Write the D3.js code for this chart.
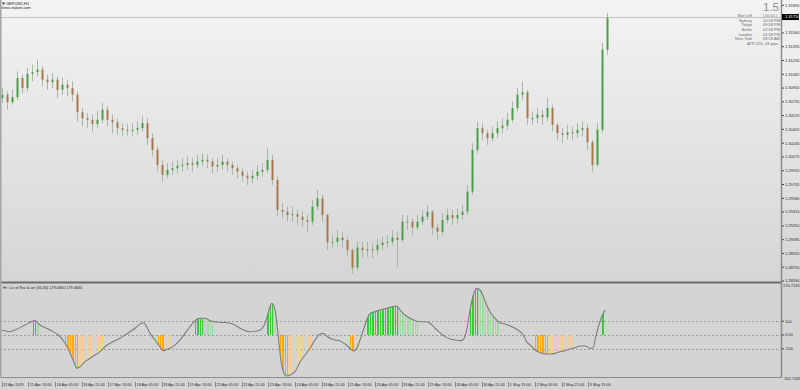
<!DOCTYPE html>
<html>
<head>
<meta charset="utf-8">
<script src="https://cdn.jsdelivr.net/npm/d3@7"></script>
<style>
  body { margin: 0; background: #d4d4d4; }
  svg { display: block; font-family: "Liberation Sans", Arial, sans-serif; }
</style>
</head>
<body>
<div id="chart"></div>
<script>
"use strict"

/* GBPUSD H1 closes, one candle every 3 hours */
let firstOpen = 1.3078;
let closes = [1.3082,1.3073,1.3079,1.3102,1.3090,1.3107,1.3109,1.3112,1.3100,1.3097,
  1.3100,1.3088,1.3094,1.3090,1.3082,1.3061,1.3054,1.3052,1.3047,1.3052,
  1.3064,1.3052,1.3049,1.3042,1.3040,1.3040,1.3040,1.3042,1.3048,1.3030,
  1.3016,1.2998,1.2986,1.2992,1.2994,1.2997,1.2998,1.3000,1.2998,1.3002,
  1.3004,1.3002,1.2996,1.2998,1.3002,1.2998,1.2994,1.2990,1.2985,1.2982,
  1.2985,1.2990,1.2992,1.3004,1.2980,1.2944,1.2942,1.2938,1.2939,1.2936,
  1.2932,1.2930,1.2948,1.2958,1.2938,1.2905,1.2906,1.2911,1.2908,1.2896,
  1.2875,1.2899,1.2896,1.2897,1.2896,1.2902,1.2905,1.2906,1.2911,1.2908,
  1.2930,1.2930,1.2923,1.2930,1.2936,1.2942,1.2923,1.2918,1.2932,1.2938,
  1.2934,1.2938,1.2942,1.2966,1.3016,1.3042,1.3036,1.3030,1.3036,1.3042,
  1.3045,1.3052,1.3066,1.3082,1.3085,1.3054,1.3054,1.3058,1.3055,1.3066,
  1.3046,1.3036,1.3034,1.3037,1.3036,1.3040,1.3042,1.3025,1.2998,1.3040,
  1.3136,1.3174];
let highs = [1.3090,1.3086,1.3088,1.3110,1.3106,1.3114,1.3118,1.3124,1.3116,1.3106,
  1.3108,1.3104,1.3102,1.3100,1.3098,1.3086,1.3066,1.3060,1.3058,1.3062,
  1.3072,1.3068,1.3058,1.3054,1.3048,1.3047,1.3048,1.3050,1.3056,1.3054,
  1.3036,1.3020,1.3004,1.3000,1.3002,1.3004,1.3006,1.3008,1.3006,1.3010,
  1.3012,1.3010,1.3006,1.3006,1.3010,1.3006,1.3002,1.2998,1.2994,1.2990,
  1.2992,1.2998,1.3000,1.3018,1.3010,1.2984,1.2952,1.2948,1.2948,1.2944,
  1.2942,1.2938,1.2956,1.2968,1.2962,1.2940,1.2914,1.2920,1.2918,1.2912,
  1.2898,1.2906,1.2906,1.2906,1.2904,1.2910,1.2912,1.2914,1.2920,1.2918,
  1.2938,1.2938,1.2934,1.2938,1.2944,1.2950,1.2944,1.2928,1.2940,1.2946,
  1.2944,1.2946,1.2950,1.2974,1.3024,1.3050,1.3048,1.3040,1.3044,1.3050,
  1.3054,1.3060,1.3074,1.3090,1.3098,1.3088,1.3062,1.3066,1.3064,1.3078,
  1.3070,1.3048,1.3042,1.3046,1.3044,1.3048,1.3050,1.3046,1.3028,1.3048,
  1.3144,1.3180];
let lows = [1.3072,1.3064,1.3070,1.3076,1.3084,1.3086,1.3098,1.3104,1.3092,1.3088,
  1.3090,1.3078,1.3082,1.3080,1.3074,1.3050,1.3044,1.3042,1.3038,1.3042,
  1.3048,1.3044,1.3036,1.3034,1.3032,1.3033,1.3032,1.3034,1.3038,1.3022,
  1.3008,1.2990,1.2978,1.2982,1.2986,1.2988,1.2990,1.2992,1.2990,1.2994,
  1.2996,1.2994,1.2988,1.2990,1.2992,1.2990,1.2986,1.2982,1.2978,1.2974,
  1.2976,1.2980,1.2984,1.2988,1.2974,1.2936,1.2934,1.2930,1.2930,1.2926,
  1.2924,1.2918,1.2926,1.2944,1.2930,1.2896,1.2898,1.2900,1.2898,1.2888,
  1.2868,1.2872,1.2886,1.2888,1.2886,1.2890,1.2896,1.2898,1.2902,1.2876,
  1.2906,1.2920,1.2914,1.2920,1.2926,1.2932,1.2914,1.2908,1.2914,1.2928,
  1.2926,1.2928,1.2932,1.2938,1.2962,1.3012,1.3028,1.3022,1.3026,1.3030,
  1.3036,1.3040,1.3048,1.3062,1.3076,1.3046,1.3046,1.3048,1.3046,1.3050,
  1.3038,1.3028,1.3024,1.3028,1.3028,1.3030,1.3032,1.3016,1.2990,1.2996,
  1.3036,1.3130];
let hoursPerCandle = 3;
let currentPrice = 1.31750;
let priceTicks = [1.31890,1.31560,1.31395,1.31230,1.31065,1.30900,1.30735,1.30570,1.30405,
  1.30240,1.30075,1.29910,1.29745,1.29580,1.29415,1.29250,1.29085,1.28920,1.28755,1.28590];

/* indicator: Cci of Rsx, sampled at these bar numbers */
let indBars = [0,5,8,14,20,23,29,35,38,41,44,45,47,50,53,56,59,62,65,68,
  71,74,77,80,83,85,87,89,92,95,97,99,101,104,107,110,113,116,119,122,
  125,131,136,140,143,149,154,157,159,161,162,164,166,167,169,171,173,176,179,182,
  185,188,191,193,195,197,200,203,206,209,211,213,215,217,219,221,224,227,233,237,
  239,242,245,248,251,254,257,260,263,266,269,272,275,277,279,281,283,285,287,289,
  291,293,296,299,302,305,308,311,313,315,317,320,323,326,329,332,335,338,341,344,
  347,350,353,355,356,358,360,362];
let indValues = [36,24,36,72,104,72,36,-12,-58,-130,-217,-241,-230,-193,-169,-145,-121,-85,-60,-41,
  -24,0,24,49,80,89,60,12,-36,-85,-114,-104,-96,-72,-36,12,60,104,121,121,
  104,92,89,72,49,24,31,60,121,205,230,181,-12,-133,-266,-297,-290,-266,-196,-145,
  -96,-36,7,12,-7,-24,-36,-43,-65,-96,-116,-96,-36,36,109,157,169,181,201,210,
  181,145,121,104,96,96,85,49,17,-12,-29,-36,-41,-31,36,181,290,338,326,278,
  217,169,121,89,80,65,49,24,0,-49,-72,-109,-128,-138,-138,-133,-121,-114,-101,-92,
  -80,-80,-96,-92,-36,60,133,181];
let indLevels = [100, 0, -100];
let indLevelLabels = ["100", "0.00", "-100"];
let indMaxLabel = "170.7145";
let indMinLabel = "-332.7349";
/* histogram runs: first bar, strongest bar, last bar */
let histRuns = [[19,20,22],[38,45,60],[94,97,101],[116,120,126],[159,162,164],[166,171,185],
  [209,211,211],[219,237,249],[281,285,298],[320,327,343],[360,362,362]];
let histSide = ["up","down","down","up","up","down","down","up","up","down","up"];

let timeLabels = ["12 Apr 2019","15 Apr 13:00","16 Apr 05:00","16 Apr 21:00","17 Apr 13:00",
  "18 Apr 05:00","18 Apr 21:00","19 Apr 13:00","22 Apr 05:00","22 Apr 21:00","23 Apr 13:00",
  "24 Apr 05:00","24 Apr 21:00","25 Apr 13:00","26 Apr 05:00","26 Apr 21:00","29 Apr 13:00",
  "30 Apr 05:00","30 Apr 21:00","1 May 13:00","2 May 05:00","2 May 21:00","3 May 13:00"];
let barsPerLabel = 16;

let infoNames = ["Bar Left", "Sydney", "Tokyo", "Berlin", "London", "New York"];
let infoTimes = ["[ 00:01 ]", "10:58 PM", "09:58 PM", "02:58 PM", "01:58 PM", "08:58 AM"];
let atrText = "ATR (20): 43 pips";

/* layout */
let svgWidth = 800;
let svgHeight = 390;
let axisX = 781;
let mainBottom = 282;
let indTop = 284;
let indBottom = 377;

let svg = d3.select("#chart")
  .append("svg")
  .attr("width", svgWidth)
  .attr("height", svgHeight);

let defs = svg.append("defs");
let grad = defs.append("linearGradient")
  .attr("id", "mainbg")
  .attr("x1", 0).attr("y1", 0).attr("x2", 0).attr("y2", 1);
grad.append("stop").attr("offset", "0%").attr("stop-color", "#f3f3f3");
grad.append("stop").attr("offset", "100%").attr("stop-color", "#d5d5d5");

svg.append("rect")
  .attr("width", svgWidth).attr("height", svgHeight)
  .attr("fill", "#d4d4d4");
svg.append("rect")
  .attr("width", svgWidth).attr("height", mainBottom)
  .attr("fill", "url(#mainbg)");

/* scales */
let xScale = d3.scaleLinear()
  .domain([0, 480])
  .range([1.7, 1.7 + 480 * (80 / 48)]);

let yPrice = d3.scaleLinear()
  .domain([1.28590, 1.31954])
  .range([281, 0]);

let yInd = d3.scaleLinear()
  .domain([-100, 100])
  .range([348.8, 321.2]);

/* current price line */
svg.append("line")
  .attr("x1", 0).attr("x2", axisX)
  .attr("y1", Math.round(yPrice(currentPrice)) + 0.5)
  .attr("y2", Math.round(yPrice(currentPrice)) + 0.5)
  .attr("stroke", "#c4c4c4");

/* candles */
let candles = closes.map(function (c, i) {
  return {
    bar: i * hoursPerCandle,
    open: i == 0 ? firstOpen : closes[i - 1],
    close: c,
    high: highs[i],
    low: lows[i]
  };
});

let price = svg.append("g");
price.selectAll("line")
  .data(candles)
  .join("line")
  .attr("x1", d => Math.round(xScale(d.bar)) + 0.5)
  .attr("x2", d => Math.round(xScale(d.bar)) + 0.5)
  .attr("y1", d => yPrice(d.high))
  .attr("y2", d => yPrice(d.low))
  .attr("stroke", "#a3b9a3")
  .attr("stroke-width", 1);

price.selectAll("rect")
  .data(candles)
  .join("rect")
  .attr("x", d => Math.round(xScale(d.bar)) - 0.5)
  .attr("width", 2)
  .attr("y", d => yPrice(Math.max(d.open, d.close)))
  .attr("height", d => Math.max(1, Math.abs(yPrice(d.open) - yPrice(d.close))))
  .attr("fill", d => d.close >= d.open ? "#46a046" : "#a9784a");

/* indicator levels */
svg.append("g").selectAll("line")
  .data(indLevels)
  .join("line")
  .attr("x1", 0).attr("x2", axisX)
  .attr("y1", d => Math.round(yInd(d)) + 0.5)
  .attr("y2", d => Math.round(yInd(d)) + 0.5)
  .attr("stroke", "#9a9a9a")
  .attr("stroke-dasharray", "2,2");

/* histogram clipped by the area under the indicator curve */
let indPoints = indBars.map((b, i) => ({ bar: b, v: indValues[i] }));

let area = d3.area()
  .x(d => xScale(d.bar))
  .y0(yInd(0))
  .y1(d => yInd(d.v))
  .curve(d3.curveMonotoneX);

defs.append("clipPath")
  .attr("id", "histclip")
  .append("path")
  .attr("d", area(indPoints));

let histLines = [];
histRuns.forEach(function (run, k) {
  for (let b = run[0]; b <= run[2]; b++) {
    histLines.push({ bar: b, up: histSide[k] == "up", strong: b <= run[1] });
  }
});

svg.append("g")
  .attr("clip-path", "url(#histclip)")
  .selectAll("line")
  .data(histLines)
  .join("line")
  .attr("x1", d => Math.round(xScale(d.bar)) + 0.5)
  .attr("x2", d => Math.round(xScale(d.bar)) + 0.5)
  .attr("y1", yInd(0))
  .attr("y2", d => d.up ? indTop : indBottom + 10)
  .attr("stroke", function (d) {
    if (d.up) return d.strong ? "#35cc35" : "#a2dba2";
    return d.strong ? "#ffa812" : "#f3cf9c";
  })
  .attr("stroke-width", 1)
  .attr("shape-rendering", "crispEdges");

let indLine = d3.line()
  .x(d => xScale(d.bar))
  .y(d => yInd(d.v))
  .curve(d3.curveMonotoneX);

svg.append("path")
  .attr("d", indLine(indPoints))
  .attr("fill", "none")
  .attr("stroke", "#7c7c7c")
  .attr("stroke-width", 1.1);

/* frame */
svg.append("rect")
  .attr("x", 0).attr("y", mainBottom - 0.5)
  .attr("width", axisX).attr("height", 2)
  .attr("fill", "#6c6c6c");
svg.append("line")
  .attr("x1", 0).attr("x2", axisX)
  .attr("y1", indBottom + 0.5).attr("y2", indBottom + 0.5)
  .attr("stroke", "#8c8c8c");
svg.append("line")
  .attr("x1", axisX + 0.5).attr("x2", axisX + 0.5)
  .attr("y1", 0).attr("y2", indBottom + 1)
  .attr("stroke", "#8c8c8c")
  .attr("stroke-width", 1.5);
svg.append("line")
  .attr("x1", 0.75).attr("x2", 0.75)
  .attr("y1", 0).attr("y2", indBottom + 1)
  .attr("stroke", "#a4a4a4")
  .attr("stroke-width", 1.5);

/* price axis */
let pAxis = svg.append("g")
  .attr("font-size", 4)
  .attr("fill", "#2a2a2a");
pAxis.selectAll("line")
  .data(priceTicks)
  .join("line")
  .attr("x1", axisX + 1).attr("x2", axisX + 3)
  .attr("y1", d => yPrice(d)).attr("y2", d => yPrice(d))
  .attr("stroke", "#444");
pAxis.selectAll("text")
  .data(priceTicks)
  .join("text")
  .attr("x", axisX + 4)
  .attr("y", d => yPrice(d) + 1.4)
  .text(d => d.toFixed(5));

svg.append("rect")
  .attr("x", axisX + 1).attr("y", yPrice(currentPrice) - 3)
  .attr("width", 17).attr("height", 6)
  .attr("fill", "#000");
svg.append("text")
  .attr("x", axisX + 4).attr("y", yPrice(currentPrice) + 1.4)
  .attr("font-size", 4)
  .attr("fill", "#fff")
  .text(currentPrice.toFixed(5));

/* indicator axis */
let iAxis = svg.append("g")
  .attr("font-size", 4)
  .attr("fill", "#2a2a2a");
iAxis.selectAll("line")
  .data(indLevels)
  .join("line")
  .attr("x1", axisX + 1).attr("x2", axisX + 3)
  .attr("y1", d => yInd(d)).attr("y2", d => yInd(d))
  .attr("stroke", "#444");
iAxis.selectAll("text")
  .data(indLevels)
  .join("text")
  .attr("x", axisX + 4)
  .attr("y", d => yInd(d) + 1.4)
  .text((d, i) => indLevelLabels[i]);
iAxis.append("text")
  .attr("x", axisX + 2).attr("y", indTop + 3)
  .text(indMaxLabel);
iAxis.append("text")
  .attr("x", axisX + 2).attr("y", indBottom + 2.5)
  .text(indMinLabel);

/* time axis */
let tAxis = svg.append("g")
  .attr("font-size", 3.8)
  .attr("fill", "#2a2a2a");
tAxis.selectAll("line")
  .data(timeLabels)
  .join("line")
  .attr("x1", (d, i) => Math.round(xScale(i * barsPerLabel)) + 0.5)
  .attr("x2", (d, i) => Math.round(xScale(i * barsPerLabel)) + 0.5)
  .attr("y1", 382).attr("y2", 387)
  .attr("stroke", "#555")
  .attr("stroke-width", 0.6);
tAxis.selectAll("text")
  .data(timeLabels)
  .join("text")
  .attr("x", (d, i) => xScale(i * barsPerLabel) + 1.5)
  .attr("y", 386.3)
  .text(d => d);

/* titles */
svg.append("path")
  .attr("d", "M2,2.5 L5,2.5 L3.5,5 Z")
  .attr("fill", "#333");
svg.append("text")
  .attr("x", 6).attr("y", 5)
  .attr("font-size", 4).attr("fill", "#222")
  .text("GBPUSD,H1");
svg.append("text")
  .attr("x", 1.5).attr("y", 9.3)
  .attr("font-size", 3.8).attr("fill", "#222")
  .text("forex-station.com");

svg.append("text")
  .attr("x", 3).attr("y", 288.6)
  .attr("font-size", 3.8).attr("fill", "#1c1c1c")
  .text("Hi: Cci of Rsx & arr (30,30) 179.0660 179.0660");

/* info panel */
svg.append("text")
  .attr("x", 779).attr("y", 10.8)
  .attr("text-anchor", "end")
  .attr("font-size", 11.5)
  .attr("fill", "#8e8e8e")
  .text("1.5");

let info = svg.append("g")
  .attr("font-size", 4)
  .attr("fill", "#6a6a6a");
info.selectAll("text.name")
  .data(infoNames)
  .join("text")
  .attr("class", "name")
  .attr("x", 752).attr("y", (d, i) => 17.2 + i * 4.6)
  .attr("text-anchor", "end")
  .text(d => d);
info.selectAll("text.time")
  .data(infoTimes)
  .join("text")
  .attr("class", "time")
  .attr("x", 763).attr("y", (d, i) => 17.2 + i * 4.6)
  .text(d => d);
info.append("text")
  .attr("x", 778).attr("y", 17.2 + 6 * 4.6)
  .attr("text-anchor", "end")
  .text(atrText);
</script>
</body>
</html>
